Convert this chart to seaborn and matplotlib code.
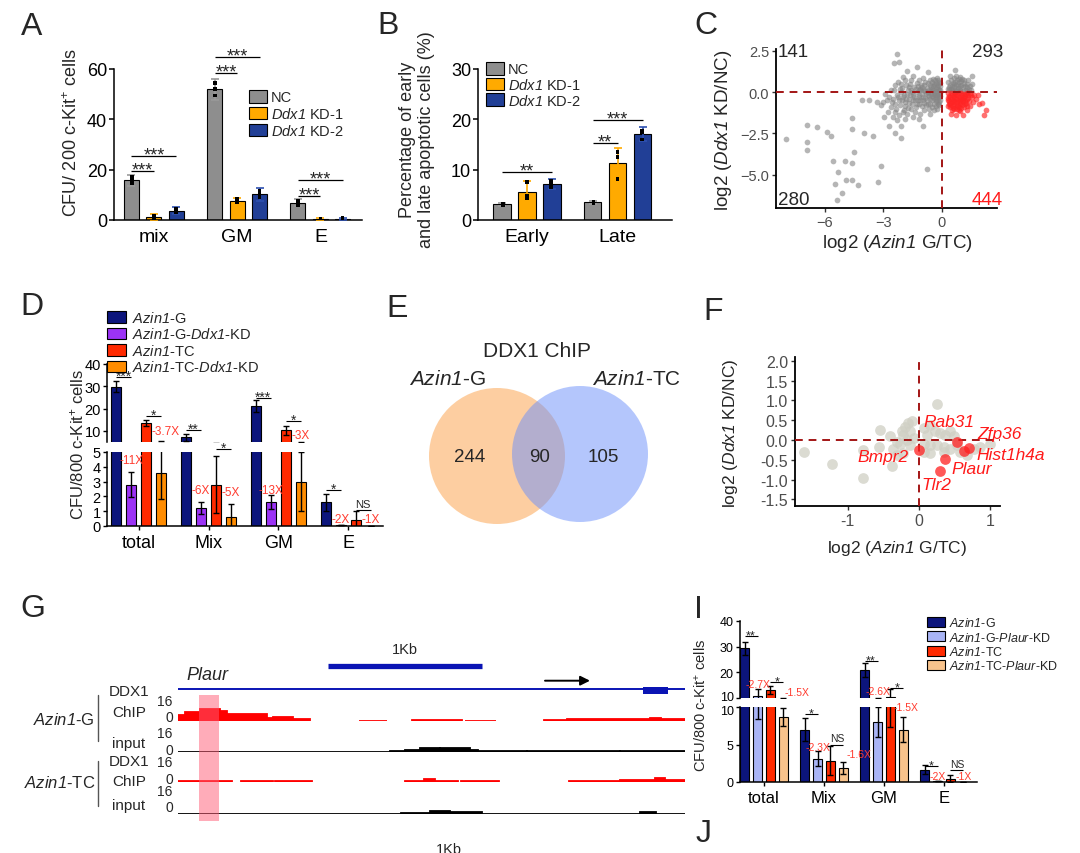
import numpy as np
import pandas as pd
import matplotlib
matplotlib.use('Agg')
import matplotlib.pyplot as plt
import seaborn as sns
from matplotlib.patches import Circle, Rectangle, Patch
from matplotlib.lines import Line2D
from matplotlib.ticker import FuncFormatter
from matplotlib.transforms import ScaledTranslation

sns.set_style('ticks')
plt.rcParams['font.family'] = ['Liberation Sans', 'DejaVu Sans']
plt.rcParams['mathtext.fontset'] = 'custom'
plt.rcParams['mathtext.rm'] = 'Liberation Sans'
plt.rcParams['mathtext.it'] = 'Liberation Sans:italic'
plt.rcParams['mathtext.bf'] = 'Liberation Sans:bold'
# 'sf' is mapped to the italic face so that digits inside gene names are italic too
plt.rcParams['mathtext.sf'] = 'Liberation Sans:italic'
plt.rcParams['axes.linewidth'] = 1.1
plt.rcParams['axes.edgecolor'] = 'black'
plt.rcParams['xtick.color'] = 'black'
plt.rcParams['ytick.color'] = 'black'

# ---------------- DATA ----------------
# Panel A
a_cats = ['mix', 'GM', 'E']
a_groups = ['NC', r'$\mathsf{Ddx1}$ KD-1', r'$\mathsf{Ddx1}$ KD-2']
a_nc = [15.7, 52.0, 6.9]
a_kd1 = [1.0, 7.7, 0.3]
a_kd2 = [3.7, 10.2, 0.5]
a_nc_err = [2.2, 4.2, 1.3]
a_kd1_err = [1.3, 1.0, 0.5]
a_kd2_err = [1.3, 2.6, 0.4]
# replicate points (3 per bar)
a_nc_pts = [[14.5, 15.8, 17.0], [49.5, 52.0, 54.5], [6.0, 7.0, 7.8]]
a_kd1_pts = [[0.5, 1.0, 1.6], [7.0, 7.6, 8.4], [0.0, 0.3, 0.6]]
a_kd2_pts = [[3.0, 3.5, 4.5], [9.0, 10.0, 11.6], [0.3, 0.5, 0.7]]
a_sig = [(0, 0, 1, 19.5, '***'), (0, 0, 2, 25.4, '***'), (1, 0, 1, 58.4, '***'),
         (1, 0, 2, 64.7, '***'), (2, 0, 1, 9.7, '***'), (2, 0, 2, 16.0, '***')]

# Panel B
b_cats = ['Early', 'Late']
b_nc = [3.1, 3.5]
b_kd1 = [5.6, 11.4]
b_kd2 = [7.1, 17.1]
b_nc_err = [0.3, 0.3]
b_kd1_err = [2.1, 2.9]
b_kd2_err = [1.0, 1.4]
b_nc_pts = [[3.0, 3.1, 3.2], [3.4, 3.5, 3.6]]
b_kd1_pts = [[4.4, 4.8, 7.6], [8.2, 12.5, 13.5]]
b_kd2_pts = [[6.5, 7.0, 7.8], [16.0, 17.5, 17.8]]
b_sig = [(0, 0, 2, 9.5, '**'), (1, 0, 1, 15.3, '**'), (1, 0, 2, 19.9, '***')]

# Panel C
c_gray_pts = [
    (-8.0, -2.86), (-6.9, -2.0), (-6.4, -2.1), (-6.9, -3.0), (-6.9, -3.5), (-5.9, -2.44),
    (-5.7, -2.64), (-4.6, -1.56), (-4.6, -2.26), (-4.0, -2.48), (-3.54, -2.64), (-5.6, -4.14),
    (-4.95, -4.14), (-4.6, -4.26), (-4.5, -3.64), (-5.3, -4.8), (-3.1, -4.46), (-5.5, -5.56),
    (-4.9, -5.3), (-4.6, -5.3), (-4.3, -5.64), (-5.1, -6.1), (-5.4, -6.5), (-3.3, -5.4),
    (-0.75, -4.64), (-2.7, -2.04), (-2.4, -2.5), (-2.1, -2.76), (-2.1, -2.06), (-0.97, -2.06),
    (-4.1, -0.5), (-3.76, -0.46), (-3.34, -0.6), (-3.1, -0.8), (-2.3, 2.3), (-2.2, 1.8),
    (-2.45, 1.76), (-1.78, 1.3), (-1.3, 1.5), (-0.7, 1.24), (0.68, 1.34), (1.54, 0.96),
    (-0.15, 0.6), (-0.2, 0.45), (-0.25, 0.3), (-0.15, 0.15), (-0.3, 0.05), (-0.2, -0.1),
    (-0.35, -0.2), (-0.15, -0.3), (-0.25, -0.45), (-0.4, 0.5), (-0.45, 0.35), (-0.5, 0.2),
    (-0.4, 0.0), (-0.55, -0.1), (-0.45, -0.3), (-0.3, -0.55), (-0.2, -0.7), (-0.6, 0.4),
    (-0.65, 0.1), (-0.7, -0.2), (-0.6, -0.4), (-0.75, 0.25), (-0.8, -0.05), (-0.85, -0.35),
    (-0.1, 0.35), (-0.1, -0.05), (-0.1, -0.5), (-0.35, 0.75), (-0.25, 0.85), (-0.5, 0.6),
    (-0.9, 0.15), (-1.0, -0.1), (-1.1, 0.2), (-1.2, -0.3), (-1.3, 0.0), (-1.4, -0.5),
    (-1.5, -0.2), (-1.6, 0.1), (-1.7, -0.4), (-1.8, -0.1), (-1.9, -0.6), (-2.0, -0.3),
    (-2.1, 0.0), (-2.2, -0.5), (-2.3, -0.2), (-2.4, -0.7), (-2.5, -0.4), (-2.6, -0.9),
    (-0.95, -0.5), (-1.05, 0.45), (-1.15, -0.7), (-1.25, 0.35), (-1.35, -0.9), (-1.45, 0.3),
    (-1.55, -0.75), (-1.65, 0.5), (-1.75, -0.95), (-1.85, 0.4), (-1.95, -1.1), (-2.05, 0.25),
    (-2.15, -0.8), (-2.25, 0.6), (-2.35, -1.0), (-2.45, 0.15), (-2.55, -0.6), (-1.0, -0.85),
    (-1.2, 0.7), (-1.4, -1.2), (-1.6, 0.75), (-1.8, -1.3), (-2.0, 0.9), (-2.2, -1.4),
    (-0.9, -1.1), (-1.1, -1.35), (-0.85, 0.6), (-1.3, 0.55), (-1.7, 0.3), (-2.1, 0.5),
    (-2.6, 0.1), (-2.7, -0.3), (-2.8, -0.5), (-2.9, -0.1), (-3.0, -0.6), (-2.75, -1.2),
    (-2.95, -1.5), (-2.5, -1.5), (-2.3, -1.7), (-1.9, -1.6), (-1.5, -1.5), (-1.2, -1.6),
    (-0.6, -1.3), (-0.5, -0.9), (-0.7, -0.7), (-0.95, 0.85), (-1.5, 1.0), (-1.9, 0.7),
    (-2.4, 0.45), (-0.7, 0.55), (-0.65, -1.0), (-0.3, 0.2), (-0.55, 0.05), (-0.35, -0.4),
    (-0.2, 0.2), (-0.3, -0.3), (-0.4, -0.1), (-0.5, -0.5), (-0.45, 0.1), (-0.25, -0.15),
    (-0.15, -0.2), (-0.35, 0.4), (-0.2, 0.7), (-0.3, 0.55), (-0.15, -0.6), (-0.4, -0.7),
    (-0.55, 0.3), (-0.65, -0.25), (-0.75, -0.5), (-0.85, 0.05), (-0.95, -0.3), (-1.05, 0.1),
    (-1.15, -0.15), (-1.25, -0.5), (-1.35, 0.2), (-1.45, -0.3), (-1.55, 0.0), (-1.65, -0.2),
    (-1.75, 0.1), (-1.85, -0.4), (-1.95, -0.15), (-2.05, -0.5), (-2.15, 0.2), (-2.25, -0.3),
    (-1.1, -0.5), (-1.3, -0.7), (-1.5, -0.45), (-1.7, -0.65), (-1.9, -0.85), (-0.8, -0.8),
    (-1.0, 0.3), (-1.2, 0.1), (-0.9, -0.65), (-0.6, -0.75), (-0.3, -0.85), (-0.5, -0.25),
    (-0.7, 0.0), (-0.9, 0.4), (-1.6, -1.0), (-2.0, -1.2), (-2.4, -1.2), (-0.45, 0.8),
    (-0.6, 0.7), (-0.1, 0.55), (-0.1, 0.15), (-0.1, -0.25), (-0.15, -0.8), (-0.25, -1.0),
    (-0.4, -1.1),
    (0.35, 0.1), (0.5, 0.2), (0.65, 0.1), (0.8, 0.25), (0.95, 0.15), (1.1, 0.3), (1.25, 0.1),
    (1.4, 0.2), (0.4, 0.4), (0.55, 0.55), (0.7, 0.4), (0.85, 0.6), (1.0, 0.45), (1.15, 0.7),
    (1.3, 0.5), (0.45, 0.75), (0.6, 0.85), (0.75, 0.7), (0.9, 0.9), (1.05, 0.8), (0.3, 0.6),
    (0.35, 0.3), (0.5, 0.05), (0.7, 0.05), (0.9, 0.05), (1.1, 0.05), (1.3, 0.05), (1.5, 0.1),
    (1.55, 0.5), (0.6, 0.3), (0.8, 0.45), (1.2, 0.35), (0.4, 0.95), (0.7, 1.0), (1.35, 0.75),
    (0.45, 0.2), (0.62, 0.5), (0.78, 0.15), (0.95, 0.35), (1.12, 0.55), (1.28, 0.3),
    (0.5, 0.35), (0.85, 0.8), (1.0, 0.65), (0.3, 0.2), (1.45, 0.35), (0.68, 0.62)]
c_red_pts = [
    (0.32, -0.05), (0.46, -0.08), (0.6, -0.04), (0.73, -0.1), (0.88, -0.06), (1.0, -0.03),
    (1.13, -0.09), (1.27, -0.05), (1.42, -0.07), (0.35, -0.22), (0.5, -0.18), (0.63, -0.25),
    (0.77, -0.2), (0.9, -0.27), (1.04, -0.19), (1.18, -0.24), (1.31, -0.2), (1.48, -0.16),
    (0.33, -0.38), (0.47, -0.42), (0.6, -0.35), (0.74, -0.4), (0.87, -0.36), (1.01, -0.44),
    (1.15, -0.38), (1.28, -0.41), (1.55, -0.3), (0.36, -0.55), (0.5, -0.6), (0.64, -0.52),
    (0.78, -0.58), (0.92, -0.54), (1.06, -0.61), (1.2, -0.56), (1.38, -0.52), (0.34, -0.72),
    (0.48, -0.76), (0.62, -0.7), (0.76, -0.78), (0.9, -0.73), (1.04, -0.8), (1.18, -0.74),
    (0.4, -0.9), (0.55, -0.95), (0.7, -0.88), (0.85, -0.93), (1.0, -0.97), (1.12, -0.9),
    (0.5, -1.1), (0.75, -1.05), (0.95, -1.15), (0.47, -1.34), (0.73, -1.4), (1.07, -1.4),
    (1.3, -1.1), (1.6, -0.6), (1.75, -0.4), (1.9, -0.7), (2.05, -0.66), (2.15, -1.4),
    (2.25, -1.1), (1.45, -0.85), (1.65, -0.2), (1.85, -0.15),
    (0.4, -0.3), (0.55, -0.45), (0.68, -0.62), (0.82, -0.45), (0.95, -0.65), (1.1, -0.5),
    (1.25, -0.68), (0.42, -0.65), (0.58, -0.82), (0.83, -0.85), (1.1, -0.3), (1.3, -0.85),
    (0.65, -0.15), (0.95, -0.42), (1.22, -0.1), (0.3, -0.5), (0.3, -0.85), (0.62, -1.0),
    (0.88, -1.08), (1.35, -0.35)]
c_counts = ['141', '293', '280', '444']

# Panel D
d_cats = ['total', 'Mix', 'GM', 'E']
d_groups = [r'$\mathsf{Azin1}$-G', r'$\mathsf{Azin1}$-G-$\mathsf{Ddx1}$-KD',
            r'$\mathsf{Azin1}$-TC', r'$\mathsf{Azin1}$-TC-$\mathsf{Ddx1}$-KD']
d_g = [29.9, 7.1, 21.2, 1.6]
d_gkd = [2.8, 1.23, 1.62, 0.05]
d_tc = [13.6, 2.8, 10.3, 0.43]
d_tckd = [3.6, 0.6, 3.0, 0.03]
d_g_err = [2.4, 1.6, 2.6, 0.57]
d_gkd_err = [0.85, 0.42, 0.48, 0.0]
d_tc_err = [1.3, 1.95, 2.0, 0.55]
d_tckd_err = [1.75, 0.9, 2.0, 0.0]
d_sig_up = [(0, 0, 1, 34.2, '***'), (0, 2, 3, 16.6, '*'), (1, 0, 1, 10.3, '**'),
            (2, 0, 1, 24.9, '***'), (2, 2, 3, 14.2, '*')]
d_sig_low = [(1, 2, 3, 5.2, '*'), (3, 0, 1, 2.4, '*'), (3, 2, 3, 1.1, 'NS')]
d_fold_low = [(0, 1, 4.43, '-11X'), (1, 1, 2.4, '-6X'), (1, 3, 2.3, '-5X'),
              (2, 1, 2.45, '-13X'), (3, 1, 0.5, '-2X'), (3, 3, 0.5, '-1X')]
d_fold_up = [(0, 2, 10.0, '-3.7X'), (2, 3, 8.1, '-3X')]

# Panel E
e_title = 'DDX1 ChIP'
e_sets = [r'$\mathsf{Azin1}$-G', r'$\mathsf{Azin1}$-TC']
e_counts = [244, 90, 105]

# Panel F
f_gray_pts = [
    (-1.62, -0.30), (-1.22, -0.60), (-0.79, -0.26), (-0.79, -0.97), (-0.54, 0.26), (-0.56, -0.17),
    (-0.40, 0.09), (-0.38, -0.65), (-0.31, -0.04), (-0.24, 0.22), (-0.19, 0.34), (-0.15, 0.43),
    (-0.10, 0.47), (-0.12, 0.22), (-0.22, 0.13), (-0.17, 0.0), (-0.26, -0.09), (-0.36, -0.22),
    (-0.31, -0.39), (-0.22, -0.34), (-0.12, -0.13), (-0.07, 0.04), (0.07, 0.30), (0.11, 0.13),
    (0.16, 0.39), (0.23, 0.22), (0.30, 0.17), (0.37, 0.13), (0.44, 0.22), (0.49, 0.09),
    (0.25, 0.92), (0.07, -0.09), (0.16, -0.13), (0.25, -0.13), (0.35, -0.17), (0.44, -0.22),
    (0.58, -0.30), (0.67, -0.39), (0.77, -0.22), (0.86, -0.17), (1.0, -0.09), (0.07, -0.30),
    (0.16, -0.34), (0.35, -0.30), (0.53, -0.13)]
f_genes = ['Bmpr2', 'Rab31', 'Hist1h4a', 'Zfp36', 'Plaur', 'Tlr2']
f_red_x = [0.0, 0.53, 0.64, 0.71, 0.37, 0.30]
f_red_y = [-0.26, -0.06, -0.28, -0.19, -0.49, -0.78]
f_label_x = [-0.51, 0.42, 1.29, 1.14, 0.74, 0.25]
f_label_y = [-0.43, 0.47, -0.36, 0.16, -0.73, -1.12]

# Panel G (genomic positions in bp, signal 0-16)
g_len = 3292
g_scale_bar = (974, 1974)
g_exon = (3018, 3180)
g_arrow = (2383, 2675)
g_highlight = (136, 266)
g_chip_start = [0, 43, 143, 273, 316, 576, 619, 749, 1175, 1517, 1863, 2377, 2526, 3065, 3136]
g_chip_end = [43, 143, 273, 316, 576, 619, 749, 857, 1357, 1845, 2068, 2526, 3065, 3136, 3292]
g_chip_val = [4.6, 7.2, 9.4, 7.8, 5.8, 2.8, 3.5, 1.4, 0.4, 0.7, 0.4, 0.8, 1.4, 2.6, 1.5]
g_inp_start = [0, 1377, 1474, 1571, 1701, 1896, 1948, 2266, 2870]
g_inp_end = [1377, 1474, 1571, 1701, 1896, 1948, 2266, 2870, 3292]
g_inp_val = [0.4, 1.2, 2.0, 3.6, 3.0, 2.0, 1.0, 0.6, 1.0]
tc_chip_start = [0, 409, 630, 1474, 1597, 1669, 1838, 2539, 2870, 3097, 3162]
tc_chip_end = [351, 617, 870, 1597, 1669, 1818, 2084, 2870, 3097, 3162, 3292]
tc_chip_val = [0.5, 0.5, 0.5, 0.9, 2.2, 0.9, 0.5, 1.2, 2.0, 3.4, 2.0]
tc_inp_start = [0, 1448, 1636, 1766, 1974, 2999, 3104]
tc_inp_end = [1448, 1636, 1766, 1974, 2999, 3104, 3292]
tc_inp_val = [0.4, 1.2, 2.4, 1.3, 0.4, 1.3, 0.4]

# Panel I
i_cats = ['total', 'Mix', 'GM', 'E']
i_groups = [r'$\mathsf{Azin1}$-G', r'$\mathsf{Azin1}$-G-$\mathsf{Plaur}$-KD',
            r'$\mathsf{Azin1}$-TC', r'$\mathsf{Azin1}$-TC-$\mathsf{Plaur}$-KD']
i_g = [29.4, 7.0, 20.9, 1.65]
i_gp = [10.9, 3.08, 8.0, 0.1]
i_tc = [13.2, 2.86, 10.4, 0.45]
i_tcp = [8.66, 1.88, 7.0, 0.05]
i_g_err = [2.5, 1.5, 2.8, 0.6]
i_gp_err = [2.5, 1.0, 2.0, 0.0]
i_tc_err = [1.6, 1.95, 3.0, 0.5]
i_tcp_err = [1.2, 0.75, 1.7, 0.0]
i_sig_up = [(0, 0, 1, 34.2, '**'), (0, 2, 3, 16.2, '*'), (2, 0, 1, 24.4, '**'), (2, 2, 3, 14.0, '*')]
i_sig_low = [(1, 0, 1, 9.1, '*'), (1, 2, 3, 5.0, 'NS'), (3, 0, 1, 2.2, '*'), (3, 2, 3, 1.65, 'NS')]
i_fold_up = [(0, 1, 15.3, '-2.7X', 'center'), (0, 3, 12.3, '-1.5X', 'left'), (2, 1, 12.7, '-2.6X', 'center')]
i_fold_low = [(1, 1, 4.64, '-2.3X', 'center'), (1, 3, 3.75, '-1.6X', 'left'),
              (2, 2, 10.0, '-1.5X', 'left'), (3, 1, 0.76, '-2X', 'center'), (3, 3, 0.76, '-1X', 'center')]

# ---------------- COLOURS ----------------
a_colors = ['#8E8E8E', '#FFAA00', '#213F96']
a_ecolors = ['#9A9A9A', '#FFAA00', '#2E50B0']
d_colors = ['#0C157C', '#9B33F5', '#FF2A00', '#FF8C00']
i_colors = ['#0C157C', '#A9B4F5', '#FF2A00', '#F8C38C']
FOLD = '#FF3B2F'

# ---------------- FIGURE ----------------
W, H = 1080, 854
fig = plt.figure(figsize=(W / 100, H / 100), dpi=100)


def pax(l, t, r, b):
    return fig.add_axes([l / W, 1 - b / H, (r - l) / W, (b - t) / H])


def ftext(x, y, s, **kw):
    kw.setdefault('ha', 'center')
    kw.setdefault('va', 'center')
    return fig.text(x / W, 1 - y / H, s, **kw)


def bar_panel(ax, cats, groups, values, colors, width, gap, lw=0.8):
    df = pd.DataFrame({
        'cat': [c for _ in groups for c in cats],
        'grp': [g for g in groups for _ in cats],
        'val': [v for vals in values for v in vals]})
    sns.barplot(data=df, x='cat', y='val', hue='grp', order=cats, hue_order=groups,
                palette=colors, width=width, gap=gap, saturation=1, edgecolor='black',
                linewidth=lw, errorbar=None, legend=False, ax=ax, zorder=2)
    ax.set_xlabel('')
    ax.set_ylabel('')
    return [[p.get_x() + p.get_width() / 2 for p in cont] for cont in ax.containers]


def strip_panel(ax, cats, groups, pts):
    rows = [(c, g, v) for g, per_cat in zip(groups, pts) for c, vs in zip(cats, per_cat) for v in vs]
    df = pd.DataFrame(rows, columns=['cat', 'grp', 'val'])
    sns.stripplot(data=df, x='cat', y='val', hue='grp', order=cats, hue_order=groups,
                  dodge=True, jitter=False, palette=['black'] * len(groups), marker='s',
                  size=2.6, linewidth=0, legend=False, ax=ax, zorder=4)
    ax.set_xlabel('')
    ax.set_ylabel('')


def err_panel(ax, pos, values, errs, ecolors, capsize=3, lw=1.0):
    for xs, vs, es, c in zip(pos, values, errs, ecolors):
        ax.errorbar(xs, vs, yerr=es, fmt='none', ecolor=c, elinewidth=lw,
                    capsize=capsize, capthick=lw, zorder=3)


def sig(ax, pos, cat, h1, h2, y, s, fs, lw=0.9):
    x1, x2 = pos[h1][cat], pos[h2][cat]
    ax.plot([x1, x2], [y, y], color='black', lw=lw, clip_on=False, zorder=4,
            solid_capstyle='butt')
    if s == 'NS':
        ax.annotate(s, ((x1 + x2) / 2, y), xytext=(0, 0.8), textcoords='offset points',
                    ha='center', va='bottom', fontsize=fs, annotation_clip=False)
    else:
        ax.annotate(s, ((x1 + x2) / 2, y), xytext=(0, -0.2 * fs), textcoords='offset points',
                    ha='center', va='baseline', fontsize=fs, annotation_clip=False)


def legend_handles(colors):
    return [Patch(facecolor=c, edgecolor='black', linewidth=0.8) for c in colors]


# ---------------- Panel A ----------------
axA = pax(114, 70, 362, 221)
a_vals = [a_nc, a_kd1, a_kd2]
posA = bar_panel(axA, a_cats, a_groups, a_vals, a_colors, 0.81, 0.33)
err_panel(axA, posA, a_vals, [a_nc_err, a_kd1_err, a_kd2_err], a_ecolors, capsize=3, lw=1.2)
strip_panel(axA, a_cats, a_groups, [a_nc_pts, a_kd1_pts, a_kd2_pts])
for s_ in a_sig:
    sig(axA, posA, *s_, fs=13)
axA.set_xlim(-0.48, 2.5)
axA.set_ylim(0, 60)
axA.set_yticks([0, 20, 40, 60])
axA.tick_params(axis='y', labelsize=13, length=3.5, width=1.1, pad=1.5)
axA.tick_params(axis='x', labelsize=14, length=0, pad=6)
sns.despine(ax=axA)
axA.legend(legend_handles(a_colors), a_groups, loc='upper left',
           bbox_to_anchor=(249 / W, 1 - 91 / H), bbox_transform=fig.transFigure,
           frameon=False, fontsize=10.5, handlelength=1.2, handleheight=0.95,
           handletextpad=0.3, labelspacing=0.12, borderaxespad=0, borderpad=0)
ftext(72, 133, r'CFU/ 200 c-Kit$^{+}$ cells', rotation=90, fontsize=13)

# ---------------- Panel B ----------------
axB = pax(478, 70, 672, 221)
b_vals = [b_nc, b_kd1, b_kd2]
posB = bar_panel(axB, b_cats, a_groups, b_vals, a_colors, 0.83, 0.31)
err_panel(axB, posB, b_vals, [b_nc_err, b_kd1_err, b_kd2_err], a_ecolors, capsize=3, lw=1.2)
strip_panel(axB, b_cats, a_groups, [b_nc_pts, b_kd1_pts, b_kd2_pts])
for s_ in b_sig:
    sig(axB, posB, *s_, fs=13)
axB.set_xlim(-0.54, 1.6)
axB.set_ylim(0, 30)
axB.set_yticks([0, 10, 20, 30])
axB.tick_params(axis='y', labelsize=13, length=3.5, width=1.1, pad=1.5)
axB.tick_params(axis='x', labelsize=14, length=0, pad=6)
sns.despine(ax=axB)
axB.legend(legend_handles(a_colors), a_groups, loc='upper left',
           bbox_to_anchor=(486 / W, 1 - 63 / H), bbox_transform=fig.transFigure,
           frameon=False, fontsize=10.5, handlelength=1.2, handleheight=0.95,
           handletextpad=0.3, labelspacing=0.05, borderaxespad=0, borderpad=0)
ftext(417, 140, 'Percentage of early\nand late apoptotic cells (%)', rotation=90,
      fontsize=13, multialignment='center', linespacing=1.15)

# ---------------- Panel C ----------------
axC = pax(776, 50, 997, 209)
gx, gy = zip(*c_gray_pts)
rx, ry = zip(*c_red_pts)
sns.scatterplot(x=list(gx), y=list(gy), color='#858585', s=17, alpha=0.6, linewidth=0, ax=axC, zorder=2)
sns.scatterplot(x=list(rx), y=list(ry), color='#FF2424', s=17, alpha=0.65, linewidth=0, ax=axC, zorder=2)
axC.axhline(0, color='#A31515', lw=1.4, dashes=(4, 3), zorder=3)
axC.axvline(0, color='#A31515', lw=1.4, dashes=(4, 3), zorder=3)
axC.set_xlim(-8.5, 2.82)
axC.set_ylim(-7.0, 2.6)
axC.set_xticks([-6, -3, 0])
axC.set_yticks([2.5, 0, -2.5, -5.0])
minus = lambda v, p, fmt: (fmt % v).replace('-', '\u2212')
axC.xaxis.set_major_formatter(FuncFormatter(lambda v, p: minus(v, p, '%d')))
axC.yaxis.set_major_formatter(FuncFormatter(lambda v, p: minus(v, p, '%.1f')))
axC.tick_params(labelsize=10.5, labelcolor='#4D4D4D', color='#333333', length=3, width=1, pad=2)
sns.despine(ax=axC)
axC.spines['left'].set_linewidth(1.3)
axC.spines['bottom'].set_linewidth(1.3)
axC.text(-8.41, 2.42, c_counts[0], ha='left', va='center', fontsize=13.5)
axC.text(3.13, 2.42, c_counts[1], ha='right', va='center', fontsize=13.5, clip_on=False)
axC.text(-8.41, -6.46, c_counts[2], ha='left', va='center', fontsize=13.5)
axC.text(3.13, -6.46, c_counts[3], ha='right', va='center', fontsize=13.5, color='#FF1A1A', clip_on=False)
ftext(897, 243, r'log2 ($\mathsf{Azin1}$ G/TC)', fontsize=13.5)
ftext(723, 130, r'log2 ($\mathsf{Ddx1}$ KD/NC)', rotation=90, fontsize=13.5)

# ---------------- Panel D ----------------
d_vals = [d_g, d_gkd, d_tc, d_tckd]
d_errs = [d_g_err, d_gkd_err, d_tc_err, d_tckd_err]
axDl = pax(107, 453, 383, 527)
axDu = pax(107, 365, 383, 443)
posDl = bar_panel(axDl, d_cats, d_groups, d_vals, d_colors, 0.86, 0.33)
posDu = bar_panel(axDu, d_cats, d_groups, d_vals, d_colors, 0.86, 0.33)
for ax_ in (axDl, axDu):
    err_panel(ax_, posDl, d_vals, d_errs, ['black'] * 4, capsize=2.5, lw=1.0)
    ax_.set_xlim(-0.455, 3.5)
axDl.set_ylim(0, 5)
axDl.set_yticks([0, 1, 2, 3, 4, 5])
axDu.set_ylim(5, 40)
axDu.set_yticks([10, 20, 30, 40])
for ax_ in (axDl, axDu):
    ax_.tick_params(axis='y', labelsize=10.5, length=3, width=1, pad=1.5)
axDl.tick_params(axis='x', labelsize=13, length=3, width=1, pad=3)
sns.despine(ax=axDl)
sns.despine(ax=axDu, bottom=True)
axDu.tick_params(axis='x', length=0, labelbottom=False)
for s_ in d_sig_up:
    sig(axDu, posDu, *s_, fs=10, lw=0.8)
for s_ in d_sig_low:
    sig(axDl, posDl, *s_, fs=10 if s_[4] != 'NS' else 8, lw=0.8)
for cat, hue, y, s in d_fold_low:
    axDl.annotate(s, (posDl[hue][cat], y), ha='center', va='center', fontsize=8.5,
                  color=FOLD, annotation_clip=False)
for cat, hue, y, s in d_fold_up:
    off = 3.5 if s == '-3.7X' else 0
    axDu.annotate(s, (posDu[hue][cat], y), xytext=(off, 0), textcoords='offset points',
                  ha='left' if off else 'center', va='center', fontsize=8.5, color=FOLD,
                  annotation_clip=False)
axDu.legend(legend_handles(d_colors), d_groups, loc='upper left',
            bbox_to_anchor=(107 / W, 1 - 311 / H), bbox_transform=fig.transFigure,
            frameon=False, fontsize=10.5, handlelength=1.3, handleheight=0.85,
            handletextpad=0.4, labelspacing=0.1, borderaxespad=0, borderpad=0)
ftext(77, 445, r'CFU/800 c-Kit$^{+}$ cells', rotation=90, fontsize=12)

# ---------------- Panel E ----------------
axE = pax(400, 330, 690, 560)
axE.set_xlim(400, 690)
axE.set_ylim(560, 330)
axE.axis('off')
axE.add_patch(Circle((497, 457), 68, facecolor='#FB9A3C', alpha=0.48, lw=0))
axE.add_patch(Circle((580, 455), 68, facecolor='#6A8FFB', alpha=0.5, lw=0))
axE.text(537, 352, e_title, ha='center', va='center', fontsize=15)
axE.text(447, 380, e_sets[0], ha='center', va='center', fontsize=15)
axE.text(637, 380, e_sets[1], ha='center', va='center', fontsize=15)
for xx, n in zip([470, 540, 603], e_counts):
    axE.text(xx, 458, str(n), ha='center', va='center', fontsize=13.5)

# ---------------- Panel F ----------------
axF = pax(795, 358, 1000, 507)
fx, fy = zip(*f_gray_pts)
sns.scatterplot(x=list(fx), y=list(fy), color='#CFCFC4', s=60, alpha=0.75, linewidth=0, ax=axF, zorder=2)
axF.axhline(0, color='#A31515', lw=1.4, dashes=(4, 3), zorder=3)
axF.axvline(0, color='#A31515', lw=1.4, dashes=(4, 3), zorder=3)
sns.scatterplot(x=f_red_x, y=f_red_y, color='#FF1F1F', s=60, alpha=0.75, linewidth=0, ax=axF, zorder=4)
for g_, lx, ly in zip(f_genes, f_label_x, f_label_y):
    axF.text(lx, ly, g_, ha='center', va='center', fontsize=12.5, color='#FF1A1A',
             fontstyle='italic', clip_on=False)
axF.set_xlim(-1.74, 1.14)
axF.set_ylim(-1.67, 2.1)
axF.set_xticks([-1, 0, 1])
axF.set_yticks([-1.5, -1.0, -0.5, 0.0, 0.5, 1.0, 1.5, 2.0])
axF.yaxis.set_major_formatter(FuncFormatter(lambda v, p: '%.1f' % v))
axF.xaxis.set_major_formatter(FuncFormatter(lambda v, p: '%d' % v))
axF.tick_params(labelsize=11.5, labelcolor='#4D4D4D', color='#333333', length=3, width=1, pad=2)
sns.despine(ax=axF)
axF.spines['left'].set_linewidth(1.3)
axF.spines['bottom'].set_linewidth(1.3)
ftext(897, 548, r'log2 ($\mathsf{Azin1}$ G/TC)', fontsize=12.5)
ftext(730, 433, r'log2 ($\mathsf{Ddx1}$ KD/NC)', rotation=90, fontsize=12.5)

# ---------------- Panel G ----------------
axGene = pax(178, 640, 685, 700)
axGene.set_xlim(0, g_len)
axGene.set_ylim(700, 640)
axGene.axis('off')
axGene.hlines(667, g_scale_bar[0], g_scale_bar[1], color='#0A14B4', lw=3.8)
axGene.text(sum(g_scale_bar) / 2, 650, '1Kb', ha='center', va='center', fontsize=10.5)
axGene.hlines(690, 0, g_len, color='#0A14B4', lw=1.4)
axGene.add_patch(Rectangle((g_exon[0], 687.5), g_exon[1] - g_exon[0], 7, color='#0A14B4', lw=0))
axGene.annotate('', xy=(g_arrow[1], 681.7), xytext=(g_arrow[0], 681.7),
                arrowprops=dict(arrowstyle='-|>', lw=1.4, color='black', mutation_scale=14,
                                shrinkA=0, shrinkB=0))

tracks = [(722, g_chip_start, g_chip_end, g_chip_val, '#FF0000'),
          (753, g_inp_start, g_inp_end, g_inp_val, 'black'),
          (783, tc_chip_start, tc_chip_end, tc_chip_val, '#FF0000'),
          (815, tc_inp_start, tc_inp_end, tc_inp_val, 'black')]
for base, st, en, val, col in tracks:
    axT = pax(178, base - 20, 685, base)
    axT.bar(st, val, width=np.array(en) - np.array(st), align='edge', color=col,
            edgecolor=col, linewidth=1.3)
    axT.set_xlim(0, g_len)
    axT.set_ylim(0, 16)
    axT.axis('off')
axHL = pax(178, 696, 685, 822)
axHL.set_xlim(0, g_len)
axHL.set_ylim(0, 1)
axHL.axis('off')
axHL.axvspan(g_highlight[0], g_highlight[1], color='#FF5A75', alpha=0.5, lw=0)

ftext(207, 676, 'Plaur', fontsize=13, fontstyle='italic')
for y_, s_ in [(692, 'DDX1'), (713, 'ChIP'), (744, 'input'), (762, 'DDX1'), (782, 'ChIP'), (806, 'input')]:
    ftext(129, y_, s_, fontsize=11)
for y_ in [702, 734, 763, 792]:
    ftext(165, y_, '16', fontsize=10)
for y_ in [718, 751, 780, 808]:
    ftext(169, y_, '0', fontsize=10)
ftext(95, 720, r'$\mathsf{Azin1}$-G', ha='right', fontsize=12)
ftext(95, 783, r'$\mathsf{Azin1}$-TC', ha='right', fontsize=12)
fig.add_artist(Line2D([98 / W, 98 / W], [1 - 696 / H, 1 - 742 / H], color='#555555', lw=1))
fig.add_artist(Line2D([98 / W, 98 / W], [1 - 762 / H, 1 - 807 / H], color='#555555', lw=1))
ftext(449, 850, '1Kb', fontsize=10.5)

# ---------------- Panel I ----------------
i_vals = [i_g, i_gp, i_tc, i_tcp]
i_errs = [i_g_err, i_gp_err, i_tc_err, i_tcp_err]
axIl = pax(740, 708, 977, 783)
axIu = pax(740, 622, 977, 699)
posIl = bar_panel(axIl, i_cats, i_groups, i_vals, i_colors, 0.86, 0.26)
posIu = bar_panel(axIu, i_cats, i_groups, i_vals, i_colors, 0.86, 0.26)
for ax_ in (axIl, axIu):
    err_panel(ax_, posIl, i_vals, i_errs, ['black'] * 4, capsize=2.2, lw=1.0)
    ax_.set_xlim(-0.4, 3.55)
axIl.set_ylim(0, 10)
axIl.set_yticks([0, 5, 10])
axIu.set_ylim(10, 40)
axIu.set_yticks([10, 20, 30, 40])
for ax_ in (axIl, axIu):
    ax_.tick_params(axis='y', labelsize=9, length=3, width=1, pad=1.5)
axIl.tick_params(axis='x', labelsize=12, length=3, width=1, pad=3)
sns.despine(ax=axIl)
sns.despine(ax=axIu, bottom=True)
axIu.tick_params(axis='x', length=0, labelbottom=False)
# nudge the two stacked "10" labels at the axis break apart
t_up = axIu.yaxis.get_major_ticks()[0].label1
t_up.set_transform(t_up.get_transform() + ScaledTranslation(0, 1.6 / 72, fig.dpi_scale_trans))
t_lo = axIl.yaxis.get_major_ticks()[-1].label1
t_lo.set_transform(t_lo.get_transform() + ScaledTranslation(0, -1.6 / 72, fig.dpi_scale_trans))
for s_ in i_sig_up:
    sig(axIu, posIu, *s_, fs=9, lw=0.8)
for s_ in i_sig_low:
    sig(axIl, posIl, *s_, fs=9 if s_[4] != 'NS' else 7.5, lw=0.8)
for cat, hue, y, s, ha in i_fold_up:
    axIu.annotate(s, (posIu[hue][cat], y), xytext=(0 if ha == 'center' else 1, 0),
                  textcoords='offset points', ha=ha, va='center', fontsize=7.5, color=FOLD,
                  annotation_clip=False)
for cat, hue, y, s, ha in i_fold_low:
    axIl.annotate(s, (posIl[hue][cat], y), xytext=(0 if ha == 'center' else 2.5, 0),
                  textcoords='offset points', ha=ha, va='center', fontsize=7.5, color=FOLD,
                  annotation_clip=False)
axIu.legend(legend_handles(i_colors), i_groups, loc='upper left',
            bbox_to_anchor=(927 / W, 1 - 617 / H), bbox_transform=fig.transFigure,
            frameon=False, fontsize=9, handlelength=1.4, handleheight=0.9,
            handletextpad=0.35, labelspacing=0.12, borderaxespad=0, borderpad=0)
ftext(701, 705, r'CFU/800 c-Kit$^{+}$ cells', rotation=90, fontsize=10.5)

# ---------------- Panel letters ----------------
for x_, y_, s_ in [(32, 27, 'A'), (388, 26, 'B'), (706, 26, 'C'), (32, 307, 'D'),
                   (397, 309, 'E'), (713, 312, 'F'), (33, 609, 'G'), (698, 610, 'I'),
                   (704, 834, 'J')]:
    ftext(x_, y_, s_, fontsize=23)

fig.savefig('out.png', dpi=100)
